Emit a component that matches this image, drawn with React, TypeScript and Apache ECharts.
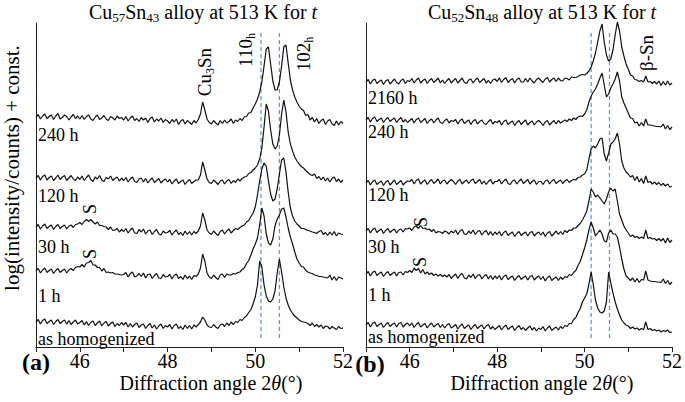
import React, { useEffect, useRef } from "react";
import * as echarts from "echarts";

// 2θ sampling grid (degrees): 45.00 … 52.00, step 0.05
const THETA_START = 45;
const THETA_STEP = 0.05;
const THETA_COUNT = 141;
const THETA = Array.from({ length: THETA_COUNT }, (_, i) => Math.round((THETA_START + THETA_STEP * i) * 100) / 100);

// x-axis range and ticks
const X_MIN = 45;
const X_MAX = 52;
const X_TICK = 1;
const Y_MIN = 0;
const Y_MAX = 324;

// reference peak positions (dashed lines) and their vertical extent
const DASH_A = [50.13, 50.55];
const DASH_B = [50.15, 50.57];
const DASH_Y = [9, 315];

// ---------- panel (a): Cu57Sn43, log(intensity) + const. ----------
const A_240 = [
  230, 232.5, 228, 231, 233, 228.5, 230.5, 232, 227.5, 231, 233.5, 228, 229.5, 232, 230.5, 227, 230, 232.5, 228.5, 231,
  228, 231.5, 227.5, 230.5, 232, 228, 226.5, 230, 232, 227.5, 229, 231.5, 228, 226.5, 230.5, 229, 227, 231, 228.5, 229.5,
  227, 230.5, 226, 229, 231, 226.5, 228.5, 225.5, 229.5, 227, 229, 224.5, 228.5, 230, 225, 228, 226, 229, 224.5, 227.5,
  226, 223.5, 227.5, 225, 228, 222.5, 226, 227.5, 223, 226.5, 224.5, 222.5, 226.5, 224, 227.5, 233, 245, 237, 228, 224.5,
  223, 226.5, 224, 222, 226.5, 223.5, 227, 224, 225.5, 228, 223.5, 227, 225.5, 228.5, 226.5, 230, 230.5, 234, 234.5, 239,
  243, 248, 255, 265, 281, 298, 300, 283, 266, 257, 257, 265, 281, 300, 302, 284, 267, 257, 250, 245,
  241, 238, 236.5, 231.5, 232.5, 227, 229.5, 225, 228.5, 223.5, 226.5, 228, 222.5, 226, 227.5, 223, 221.5, 226, 222, 225.5, 223.5,
];
const A_120 = [
  169, 171.5, 167, 170.5, 172, 167, 169.5, 171, 166.5, 169, 172, 167.5, 170, 171.5, 166.5, 169, 171.5, 168, 166.5, 170,
  167.5, 171, 166.5, 169.5, 172, 167.5, 165.5, 170, 168, 171.5, 167, 165.5, 169.5, 168, 171, 166.5, 168.5, 170, 166, 169,
  166.5, 169.5, 165, 168, 170, 165.5, 164.5, 168, 169, 165, 168.5, 164, 167, 169, 164.5, 166.5, 168.5, 164, 166.5, 168,
  165, 167.5, 163, 166, 168, 163.5, 165.5, 167, 162.5, 165.5, 167.5, 163.5, 165.5, 167, 167, 172, 185, 177, 168, 164.5,
  163.5, 167, 165, 162.5, 166, 167, 163, 166, 167.5, 163.5, 166.5, 164.5, 168, 166, 168.5, 170, 170.5, 173.5, 174.5, 177,
  179, 182, 188, 199, 220, 243, 236, 217, 203, 198, 201, 212, 233, 247, 235, 215, 203, 196, 190, 186,
  183, 180.5, 179, 176.5, 174.5, 172.5, 171.5, 173, 168.5, 170.5, 167, 170, 166, 169, 165, 168.5, 170, 165.5, 168, 164.5, 167,
];
const A_30 = [
  120, 122.5, 118, 121, 123, 118.5, 120.5, 122, 117.5, 120.5, 122.5, 118.5, 120.5, 122, 118, 121, 122, 119.5, 122.5, 123,
  124.5, 122.5, 125.5, 127.5, 125.5, 127.5, 125, 123, 125, 121.5, 121.5, 120.5, 120, 117.5, 120, 116.5, 117, 118.5, 115, 117.5,
  115.5, 118.5, 114, 117, 119, 114, 113.5, 117.5, 115, 118, 113, 116, 117, 112.5, 115.5, 117.5, 113, 112, 116, 114,
  114.5, 116.5, 112, 115, 117, 112.5, 114.5, 111.5, 116, 112.5, 115.5, 112, 115.5, 113.5, 116, 121, 134, 127, 117, 114,
  112.5, 116, 113.5, 111.5, 115.5, 117, 113, 116, 118, 114, 116.5, 118.5, 117.5, 119.5, 121, 122, 125, 126.5, 130.5, 134,
  140, 152, 166, 178, 184, 181, 166, 153, 146, 148, 158, 173, 187, 189, 175, 155, 139, 131, 126, 123,
  121, 118.5, 118.5, 117.5, 116.5, 116, 115, 114.5, 113.5, 115.5, 116.5, 112.5, 114.5, 111.5, 115, 112, 115.5, 111, 114, 113, 112.5,
];
const A_1 = [
  76, 78.5, 74, 77, 79, 74.5, 76.5, 78, 73.5, 76.5, 78.5, 74.5, 76.5, 78, 74, 77, 78.5, 76.5, 79.5, 80.5,
  80, 82.5, 80, 84, 84.5, 86.5, 82, 82, 79.5, 79.5, 76, 78.5, 74.5, 75, 74, 74.5, 73, 73, 72.5, 72,
  72.5, 74.5, 70, 73.5, 75, 70, 71, 73.5, 70.5, 74, 69, 72.5, 73, 68.5, 71.5, 73.5, 69, 68.5, 72.5, 70,
  70.5, 72.5, 68, 71.5, 73, 68.5, 70.5, 67.5, 72, 68.5, 71, 67.5, 71.5, 70.5, 73, 79, 93, 86, 74, 70,
  68.5, 72, 69.5, 67.5, 72, 73, 69.5, 73, 72, 72, 73.5, 73, 74.5, 75, 77.5, 79, 83.5, 86.5, 92, 98,
  103, 109, 122, 139, 131, 113, 104, 102, 108, 121, 128, 132, 138, 139, 130, 119, 110, 103, 95, 88,
  84, 80.5, 80, 76.5, 75, 74, 73.5, 72, 71.5, 70.5, 70.5, 70, 69.5, 69, 72, 67, 70.5, 66.5, 70, 69, 68,
];
const A_0 = [
  25, 27.5, 23, 26.5, 28, 23.5, 25.5, 27, 22.5, 25.5, 27.5, 23.5, 25.5, 27, 23, 26.5, 22.5, 25, 27, 23,
  24.5, 26.5, 22, 25.5, 21.5, 24.5, 26, 21.5, 24, 26, 21, 24, 25.5, 21, 23.5, 25, 20.5, 23.5, 21.5, 24.5,
  22, 24.5, 20, 23.5, 20, 22.5, 24, 19.5, 22, 23, 18.5, 21.5, 23.5, 19, 22, 18, 21, 23, 18.5, 21.5,
  20, 22.5, 18, 21.5, 23, 18.5, 20.5, 17.5, 22, 18.5, 21.5, 18, 22, 20, 22.5, 25, 30, 27, 22, 20,
  19.5, 22.5, 20, 18.5, 22, 23, 20.5, 24, 21.5, 25, 22.5, 25.5, 24.5, 27.5, 26.5, 29.5, 31, 34.5, 37.5, 43,
  50, 62, 86, 80, 62, 51, 46, 45, 48, 56, 74, 88, 75, 60, 49, 42, 37, 33.5, 31, 29,
  27, 25.5, 25, 24.5, 23.5, 21.5, 24, 20.5, 22.5, 20, 22, 18.5, 21, 20.5, 18, 20.5, 19, 17.5, 20.5, 18.5, 19,
];

// ---------- panel (b): Cu52Sn48 ----------
const B_2160 = [
  265, 267.5, 263, 266.5, 268, 263.5, 265.5, 267, 262.5, 266, 267.5, 263, 265.5, 268, 264.5, 263, 266.5, 268, 263.5, 266.5,
  265.5, 268.5, 264, 267, 269, 264, 266.5, 268, 263.5, 266.5, 268.5, 264.5, 266.5, 269, 264, 267, 263.5, 266.5, 268.5, 264,
  266.5, 268.5, 264, 266.5, 269, 264.5, 263.5, 267, 268, 264, 267, 269, 264.5, 266.5, 268.5, 264, 266.5, 263.5, 267, 268,
  265.5, 269, 264.5, 267.5, 269.5, 264.5, 267, 268.5, 264, 267.5, 269, 265, 265, 268.5, 265, 269, 266, 264, 267.5, 269,
  266.5, 264.5, 268, 269.5, 265, 267.5, 269, 265.5, 269, 266.5, 266, 269, 268.5, 267, 270, 269.5, 269.5, 270.5, 272, 272.5,
  272, 273.5, 276, 280, 286, 294, 305, 316, 323, 305, 292, 286, 288, 297, 312, 325, 316, 300, 291, 283,
  278, 272, 271, 267.5, 267, 265.5, 266.5, 265, 271, 265, 265.5, 263.5, 265.5, 263, 266, 261.5, 265.5, 262, 266, 262, 264,
];
const B_240 = [
  227, 229.5, 225, 228.5, 230, 225.5, 227.5, 229, 224.5, 227.5, 229.5, 225.5, 227.5, 229, 224.5, 227.5, 229.5, 225, 227.5, 224.5,
  226.5, 228.5, 224, 227.5, 229, 224.5, 226.5, 228.5, 223.5, 226.5, 228, 224, 227, 229, 224.5, 223.5, 226.5, 228, 224, 226.5,
  225.5, 227.5, 223, 226.5, 228, 223.5, 225.5, 227, 222.5, 226, 227.5, 223, 225.5, 227, 223.5, 222.5, 225.5, 227.5, 223, 225.5,
  224.5, 226.5, 222, 225.5, 227, 222.5, 224.5, 226, 221.5, 224.5, 226.5, 222.5, 225, 227, 222, 224.5, 226, 222, 225, 226.5,
  224.5, 221.5, 225, 226.5, 222, 224.5, 226.5, 223, 226.5, 224, 225.5, 227, 225.5, 228, 226.5, 229, 227.5, 230, 231, 230.5,
  233, 237, 245, 251, 255, 258, 263, 269, 274, 262, 250, 253, 259, 263, 268, 275, 266, 250, 244, 239,
  234, 229, 228.5, 224, 225, 221, 224.5, 221, 228, 222, 222, 221.5, 221, 220.5, 220.5, 220, 223, 218, 221.5, 217.5, 220,
];
const B_120 = [
  164, 166.5, 162, 165.5, 167, 162.5, 164.5, 166, 161.5, 165, 166.5, 162, 164.5, 167, 162.5, 164.5, 166.5, 162, 164.5, 166,
  165.5, 167.5, 163, 166.5, 168, 163, 165.5, 167, 162.5, 165.5, 167.5, 163.5, 165.5, 168, 163, 166, 167, 163, 165.5, 167.5,
  165.5, 162.5, 166, 167.5, 163, 165.5, 167, 163.5, 166.5, 168, 163.5, 165.5, 167.5, 163, 166, 162.5, 165.5, 167.5, 163, 165.5,
  165.5, 167.5, 163, 166, 168, 163.5, 162.5, 166, 167, 163, 166, 168, 163.5, 165.5, 167.5, 163, 165.5, 167, 162.5, 165.5,
  165.5, 162.5, 166, 167, 163, 166, 167.5, 163.5, 165.5, 167, 163.5, 166, 167.5, 164.5, 166.5, 167.5, 167, 169.5, 170, 172,
  173, 177, 188, 198, 201, 199, 203, 208, 209, 193, 186, 194, 203, 205, 208, 214, 203, 186, 179, 175,
  173, 170, 171.5, 166.5, 170.5, 165, 168.5, 163.5, 171, 164.5, 165.5, 163, 165, 162.5, 164.5, 161.5, 163.5, 161, 163, 160, 160.5,
];
const B_30 = [
  116, 118.5, 114, 117.5, 119, 114.5, 116.5, 118, 113.5, 116.5, 118.5, 114.5, 116.5, 118, 114, 117, 118, 115, 118.5, 118,
  119, 116.5, 120, 121, 118.5, 121.5, 118.5, 119, 117.5, 118, 115.5, 117.5, 114, 115.5, 115, 113.5, 116, 115, 113, 116,
  114, 117, 112.5, 116, 117.5, 113, 112.5, 116, 113.5, 117, 112.5, 115.5, 116.5, 112, 115, 116.5, 112, 115.5, 111.5, 115,
  112.5, 115.5, 111, 114.5, 116, 111.5, 113.5, 115, 110.5, 113.5, 115.5, 111.5, 113.5, 115, 111, 114.5, 115.5, 111, 113.5, 115,
  112, 115, 110.5, 114, 115.5, 111, 113.5, 116, 112.5, 115.5, 112.5, 116.5, 114.5, 117, 116.5, 119, 119, 121.5, 123.5, 127,
  131, 136, 146, 158, 155, 150, 152, 149, 146, 143, 148, 155, 159, 156, 158, 146, 133, 127, 121, 117,
  114, 110.5, 112, 109.5, 110.5, 108.5, 110, 108.5, 117, 108.5, 109.5, 108, 108.5, 106.5, 108.5, 106, 108.5, 104, 109, 104.5, 107,
];
const B_1 = [
  73, 75.5, 71, 74.5, 76, 71.5, 73.5, 75, 70.5, 73.5, 75.5, 71.5, 73.5, 75, 71, 74.5, 75, 72, 75.5, 74.5,
  76.5, 74.5, 79, 76.5, 78.5, 74, 77.5, 73, 75, 72.5, 74, 71.5, 73, 71, 72.5, 70.5, 72, 70, 72.5, 68.5,
  71, 73, 68.5, 72, 73.5, 69, 68, 72, 69.5, 73, 68.5, 71.5, 72.5, 68, 71, 72.5, 68, 71.5, 67.5, 71,
  68.5, 71.5, 67, 70.5, 72, 67.5, 69.5, 71, 66.5, 69.5, 71.5, 67.5, 69.5, 71, 67, 70.5, 71.5, 67, 69.5, 71,
  67.5, 70.5, 66, 69.5, 71, 66.5, 68.5, 70, 66.5, 70, 67.5, 70.5, 69.5, 72.5, 71.5, 74.5, 76.5, 81.5, 85.5, 92,
  99, 107, 117, 125, 119, 111, 114, 117, 113, 106, 105, 114, 117, 113, 113, 110, 100, 88, 78, 71,
  69, 66.5, 69, 65, 68.5, 64.5, 67.5, 67, 76, 67, 66, 65.5, 65.5, 65, 65, 64.5, 68, 63.5, 66.5, 62.5, 65,
];
const B_0 = [
  22, 24.5, 20, 23.5, 25, 20.5, 22.5, 24, 19.5, 22.5, 24.5, 20.5, 22.5, 24, 20, 23.5, 24.5, 20, 22.5, 24,
  21, 24, 19.5, 22.5, 24.5, 20, 22, 23.5, 19, 22, 24, 20, 22, 23.5, 19.5, 22.5, 19, 22, 23.5, 19,
  20.5, 22.5, 18, 21, 23, 18.5, 20.5, 22, 17.5, 20.5, 22.5, 18.5, 20.5, 22, 18, 21, 22.5, 18, 20.5, 17.5,
  19.5, 21.5, 17, 20, 22, 17.5, 19.5, 21, 16.5, 19.5, 21.5, 17.5, 19.5, 16.5, 19, 21, 17, 19.5, 16, 19,
  17.5, 20.5, 16, 19, 21, 16.5, 18.5, 20, 17, 20.5, 18.5, 21.5, 20.5, 23.5, 23.5, 27.5, 29.5, 34.5, 38.5, 45,
  49, 53, 63, 75, 62, 47, 39, 35, 34, 36, 45, 75, 64, 54, 45, 38, 32, 27, 24, 22,
  21, 18.5, 20, 18, 19, 17, 18.5, 17.5, 25, 17.5, 18.5, 16.5, 17.5, 16, 17, 15, 16.5, 15.5, 17, 14.5, 15,
];

const A_SERIES = [A_240, A_120, A_30, A_1, A_0];
const B_SERIES = [B_2160, B_240, B_120, B_30, B_1, B_0];
const A_NAMES = ["240 h", "120 h", "30 h", "1 h", "as homogenized"];
const B_NAMES = ["2160 h", "240 h", "120 h", "30 h", "1 h", "as homogenized"];

const FONT = "'Liberation Serif', 'Times New Roman', Times, serif";
const INK = "#000";

function richFor(size: number) {
  const sub = Math.round(size * 0.65);
  return {
    s: { fontSize: sub, lineHeight: sub, verticalAlign: "bottom", fontFamily: FONT, fill: INK },
    i: { fontSize: size, lineHeight: size + 4, fontStyle: "italic", fontFamily: FONT, fill: INK },
  };
}

function txt(x: number, y: number, text: string, size: number, opts: any = {}) {
  return {
    type: "text",
    x,
    y,
    rotation: opts.rotation || 0,
    silent: true,
    style: {
      text,
      fill: INK,
      fontFamily: FONT,
      fontSize: size,
      fontWeight: opts.bold ? "bold" : "normal",
      lineHeight: size + 4,
      align: opts.align || "center",
      verticalAlign: "middle",
      rich: richFor(size),
    },
  };
}

export default function App() {
  const ref = useRef<HTMLDivElement>(null);

  useEffect(() => {
    if (!ref.current) return;
    const chart = echarts.init(ref.current, undefined, { renderer: "svg" });

    const xAxisBase = (gridIndex: number) => ({
      type: "value",
      gridIndex,
      min: X_MIN,
      max: X_MAX,
      interval: X_TICK,
      axisLine: { show: true, lineStyle: { color: "#222", width: 1 } },
      axisTick: { show: true, length: 5, lineStyle: { color: "#222", width: 1 } },
      splitLine: { show: false },
      axisLabel: {
        fontFamily: FONT,
        fontSize: 20,
        color: INK,
        margin: 4,
        formatter: (v: number) => (Math.round(v) % 2 === 0 ? String(v) : ""),
      },
    });
    const yAxisBase = (gridIndex: number) => ({
      type: "value",
      gridIndex,
      min: Y_MIN,
      max: Y_MAX,
      axisLine: { show: true, lineStyle: { color: "#222", width: 1 } },
      axisTick: { show: false },
      axisLabel: { show: false },
      splitLine: { show: false },
    });

    const series: any[] = [];
    const dash = (xs: number[], gi: number) =>
      xs.forEach((x) =>
        series.push({
          type: "line",
          xAxisIndex: gi,
          yAxisIndex: gi,
          data: [
            [x, DASH_Y[0]],
            [x, DASH_Y[1]],
          ],
          symbol: "none",
          silent: true,
          lineStyle: { color: "#5B9BD5", width: 1.3, type: [4, 3] },
          z: 1,
        })
      );
    dash(DASH_A, 0);
    dash(DASH_B, 1);

    const trace = (vals: number[], gi: number, name: string) =>
      series.push({
        type: "line",
        name,
        xAxisIndex: gi,
        yAxisIndex: gi,
        data: vals.map((v, i) => [THETA[i], v]),
        symbol: "none",
        showSymbol: false,
        clip: false,
        silent: true,
        lineStyle: { color: "#111", width: 1.2 },
        z: 2,
      });
    A_SERIES.forEach((s, k) => trace(s, 0, "a " + A_NAMES[k]));
    B_SERIES.forEach((s, k) => trace(s, 1, "b " + B_NAMES[k]));

    const A_LABEL_Y = [135, 196, 247, 296, 339];
    const B_LABEL_Y = [98, 132, 195, 247, 295, 337];

    const graphics: any[] = [
      txt(203, 12, "Cu{s|57}Sn{s|43} alloy at 513 K for {i|t}", 20),
      txt(542, 12, "Cu{s|52}Sn{s|48} alloy at 513 K for {i|t}", 20),
      txt(12, 168, "log(intensity/counts) + const.", 21, { rotation: Math.PI / 2 }),
      txt(211, 383, "Diffraction angle 2{i|θ}(°)", 20),
      txt(542, 383, "Diffraction angle 2{i|θ}(°)", 20),
      txt(36, 362, "(a)", 24, { bold: true }),
      txt(370, 364, "(b)", 24, { bold: true }),
      txt(204, 72, "Cu{s|3}Sn", 19, { rotation: Math.PI / 2 }),
      txt(245, 50, "110{s|h}", 19, { rotation: Math.PI / 2 }),
      txt(303, 54, "102{s|h}", 19, { rotation: Math.PI / 2 }),
      txt(646, 53, "β-Sn", 19, { rotation: Math.PI / 2 }),
      txt(90, 209, "S", 18, { rotation: Math.PI / 2 }),
      txt(90, 254, "S", 18, { rotation: Math.PI / 2 }),
      txt(421, 222, "S", 18, { rotation: Math.PI / 2 }),
      txt(420, 262, "S", 18, { rotation: Math.PI / 2 }),
    ];
    A_NAMES.forEach((n, k) => graphics.push(txt(38, A_LABEL_Y[k], n, 18, { align: "left" })));
    B_NAMES.forEach((n, k) => graphics.push(txt(368, B_LABEL_Y[k], n, 18, { align: "left" })));

    chart.setOption({
      animation: false,
      backgroundColor: "#fff",
      textStyle: { fontFamily: FONT },
      grid: [
        { left: 36, width: 307, top: 23, height: 324 },
        { left: 366, width: 307, top: 23, height: 324 },
      ],
      xAxis: [xAxisBase(0), xAxisBase(1)],
      yAxis: [yAxisBase(0), yAxisBase(1)],
      series,
      graphic: graphics,
    });

    return () => chart.dispose();
  }, []);

  return (
    <div
      ref={ref}
      style={{ position: "fixed", left: 0, top: 0, width: 685, height: 402, background: "#fff" }}
    />
  );
}
